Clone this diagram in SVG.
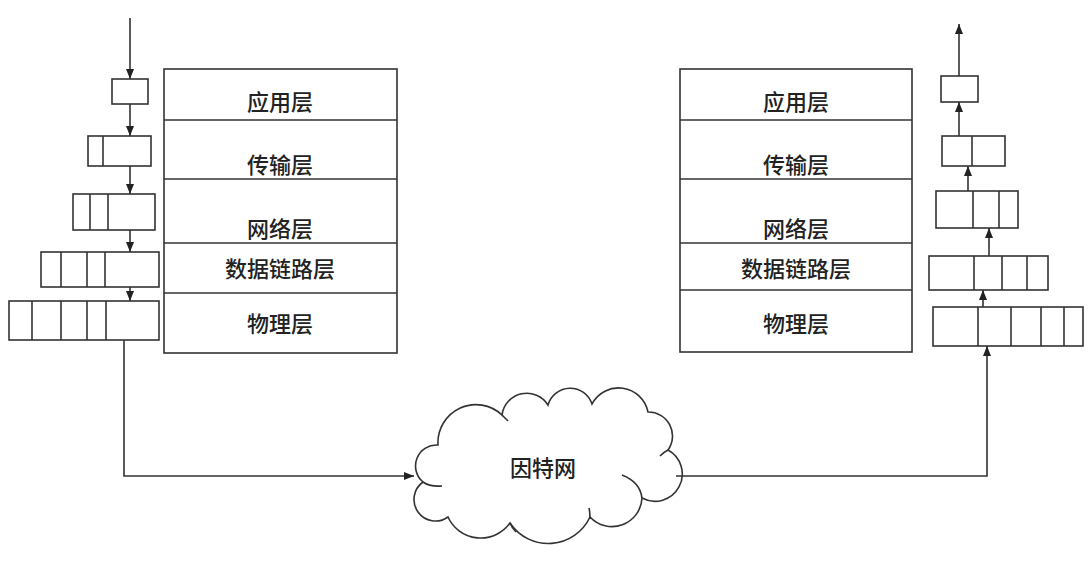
<svg xmlns="http://www.w3.org/2000/svg" width="1092" height="561" viewBox="0 0 1092 561">
<style>
.b{fill:#fff;stroke:#333;stroke-width:1.6}
.l{fill:none;stroke:#333;stroke-width:1.6}
.c{fill:none;stroke:#333;stroke-width:1.6;marker-end:url(#ah)}
.t{font-family:"Noto Sans CJK SC","Noto Sans",sans-serif;font-size:22px;font-weight:500;fill:#222;text-anchor:middle;dominant-baseline:central}
</style>
<defs>
<marker id="ah" markerUnits="userSpaceOnUse" markerWidth="10" markerHeight="8" refX="10" refY="4" orient="auto">
<path d="M0,0 L10,4 L0,8 Z" fill="#222"/>
</marker>
</defs>
<rect width="1092" height="561" fill="#fff"/>

<g id="left-stack">
<rect class="b" x="164" y="69" width="233" height="284"/>
<line class="l" x1="164" y1="120" x2="397" y2="120"/>
<line class="l" x1="164" y1="179" x2="397" y2="179"/>
<line class="l" x1="164" y1="243" x2="397" y2="243"/>
<line class="l" x1="164" y1="293" x2="397" y2="293"/>
<text class="t" x="280" y="100">应用层</text>
<text class="t" x="280" y="163">传输层</text>
<text class="t" x="280" y="227">网络层</text>
<text class="t" x="280" y="267">数据链路层</text>
<text class="t" x="280" y="322">物理层</text>
</g>

<g id="right-stack">
<rect class="b" x="680" y="69" width="232" height="283"/>
<line class="l" x1="680" y1="120" x2="912" y2="120"/>
<line class="l" x1="680" y1="179" x2="912" y2="179"/>
<line class="l" x1="680" y1="243" x2="912" y2="243"/>
<line class="l" x1="680" y1="290" x2="912" y2="290"/>
<text class="t" x="796" y="100">应用层</text>
<text class="t" x="796" y="163">传输层</text>
<text class="t" x="796" y="227">网络层</text>
<text class="t" x="796" y="267">数据链路层</text>
<text class="t" x="796" y="322">物理层</text>
</g>

<g id="left-packets">
<rect class="b" x="112" y="79" width="36" height="25"/>
<rect class="b" x="88" y="136" width="63" height="30"/>
<line class="l" x1="103" y1="136" x2="103" y2="166"/>
<rect class="b" x="73" y="194" width="82" height="36"/>
<line class="l" x1="90" y1="194" x2="90" y2="230"/>
<line class="l" x1="108" y1="194" x2="108" y2="230"/>
<rect class="b" x="41" y="252" width="118" height="35"/>
<line class="l" x1="61" y1="252" x2="61" y2="287"/>
<line class="l" x1="87" y1="252" x2="87" y2="287"/>
<line class="l" x1="105" y1="252" x2="105" y2="287"/>
<rect class="b" x="9" y="301" width="150" height="39"/>
<line class="l" x1="32" y1="301" x2="32" y2="340"/>
<line class="l" x1="61" y1="301" x2="61" y2="340"/>
<line class="l" x1="87" y1="301" x2="87" y2="340"/>
<line class="l" x1="106" y1="301" x2="106" y2="340"/>
</g>

<g id="right-packets">
<rect class="b" x="941" y="76" width="37" height="26"/>
<rect class="b" x="942" y="136" width="63" height="30"/>
<line class="l" x1="972" y1="136" x2="972" y2="166"/>
<rect class="b" x="936" y="191" width="82" height="37"/>
<line class="l" x1="973" y1="191" x2="973" y2="228"/>
<line class="l" x1="999" y1="191" x2="999" y2="228"/>
<rect class="b" x="929" y="256" width="119" height="34"/>
<line class="l" x1="974" y1="256" x2="974" y2="290"/>
<line class="l" x1="1002" y1="256" x2="1002" y2="290"/>
<line class="l" x1="1027" y1="256" x2="1027" y2="290"/>
<rect class="b" x="933" y="307" width="150" height="39"/>
<line class="l" x1="978" y1="307" x2="978" y2="346"/>
<line class="l" x1="1011" y1="307" x2="1011" y2="346"/>
<line class="l" x1="1041" y1="307" x2="1041" y2="346"/>
<line class="l" x1="1064" y1="307" x2="1064" y2="346"/>
</g>

<g id="internet">
<path class="b" d="M423,482 A21,21 0 0 1 438,445 A38,38 0 0 1 502,415 A25,25 0 0 1 548,405 A23,23 0 0 1 592,404 A30,30 0 0 1 648,412 A24,24 0 0 1 668,450 A27,27 0 0 1 642,498 A30,30 0 0 1 590,517 A46,46 0 0 1 510,523 A36,36 0 0 1 448,517 A20,20 0 0 1 423,482 Z"/>
<path class="l" d="M423,482 Q430,487 442,486"/>
<path class="l" d="M622,475 Q640,482 642,498"/>
<path class="l" d="M668,450 Q664,452 660,456"/>
<path class="l" d="M502,415 Q505,418 508,421"/>
<path class="l" d="M510,523 Q512,528 516,532"/>
<path class="l" d="M590,517 Q590,512 589,508"/>
<text class="t" x="543" y="466">因特网</text>
</g>

<g id="connectors">
<line class="c" x1="130" y1="18" x2="130" y2="79"/>
<line class="c" x1="130" y1="104" x2="130" y2="136"/>
<line class="c" x1="130" y1="166" x2="130" y2="194"/>
<line class="c" x1="130" y1="230" x2="130" y2="252"/>
<line class="c" x1="130" y1="287" x2="130" y2="301"/>
<polyline class="c" points="124,340 124,476 414,476"/>
<polyline class="c" points="676,476 987,476 987,346"/>
<line class="c" x1="983" y1="307" x2="983" y2="290"/>
<line class="c" x1="989" y1="256" x2="989" y2="228"/>
<line class="c" x1="968" y1="191" x2="968" y2="166"/>
<line class="c" x1="959" y1="136" x2="959" y2="102"/>
<line class="c" x1="959" y1="76" x2="959" y2="24"/>
</g>
</svg>
